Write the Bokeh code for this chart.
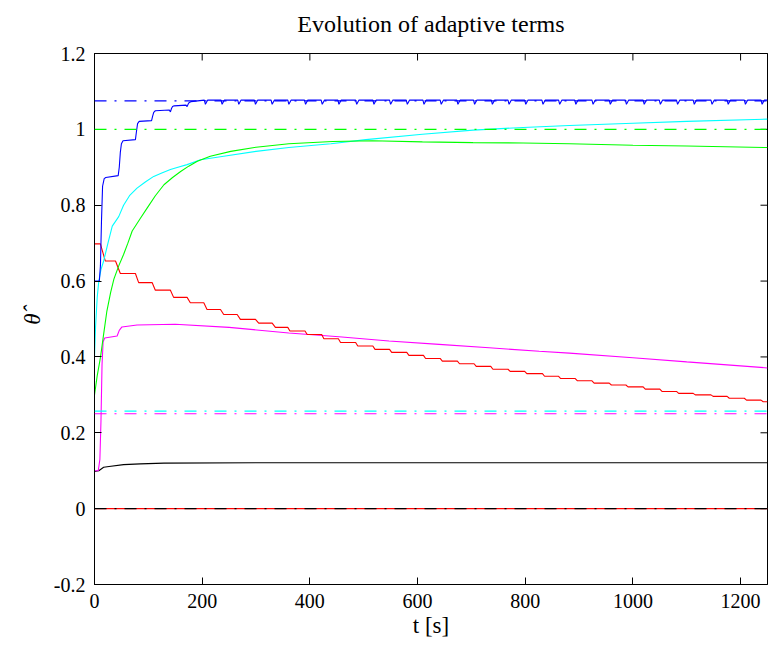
import math
from bokeh.plotting import figure
from bokeh.models import Range1d, FixedTicker, Span, LinearAxis
from bokeh.embed import file_html
from bokeh.resources import INLINE

# ---------------- data ----------------
x_min, x_max = 0, 1250
y_min, y_max = -0.2, 1.2
x_ticks = [0, 200, 400, 600, 800, 1000, 1200]
y_ticks = [-0.2, 0, 0.2, 0.4, 0.6, 0.8, 1, 1.2]
y_tick_labels = ["-0.2", "0", "0.2", "0.4", "0.6", "0.8", "1", "1.2"]
title_text = "Evolution of adaptive terms"

# blue estimate (staircase, then periodic small dips)
blue_t = [0, 9, 11, 13, 15, 18, 21, 44, 46, 48, 50, 53, 76, 78, 80, 83,
          106, 108, 110, 113, 139, 141, 143, 145, 148, 170, 172, 174, 176, 179,
          204, 206, 210, 235, 237, 241, 266, 268, 272, 297, 299, 303,
          328, 330, 334, 359, 361, 365, 390, 392, 396, 421, 423, 427,
          452, 454, 458, 485, 487, 491, 517, 519, 523, 548, 550, 554,
          579, 581, 585, 610, 612, 616, 642, 644, 648, 673, 675, 679,
          704, 706, 710, 737, 739, 743, 768, 770, 774, 799, 801, 805,
          831, 833, 837, 862, 864, 868, 892, 894, 898, 924, 926, 930,
          956, 958, 962, 986, 988, 992, 1019, 1021, 1025, 1049, 1051, 1055,
          1081, 1083, 1087, 1112, 1114, 1118, 1145, 1147, 1151, 1175, 1177, 1181,
          1207, 1209, 1213, 1238, 1240, 1244, 1250]
blue_y = [0.600, 0.600, 0.640, 0.760, 0.850, 0.870, 0.873, 0.878, 0.900, 0.940, 0.962, 0.970,
          0.973, 0.995, 1.015, 1.021, 1.023, 1.035, 1.045, 1.049, 1.051, 1.046, 1.055, 1.060,
          1.062, 1.064, 1.060, 1.067, 1.071, 1.073,
          1.077, 1.066, 1.077, 1.077, 1.066, 1.077, 1.077, 1.066, 1.077, 1.077, 1.066, 1.077,
          1.077, 1.066, 1.077, 1.077, 1.066, 1.077, 1.077, 1.066, 1.077, 1.077, 1.066, 1.077,
          1.077, 1.066, 1.077, 1.077, 1.066, 1.077, 1.077, 1.066, 1.077, 1.077, 1.066, 1.077,
          1.077, 1.066, 1.077, 1.077, 1.066, 1.077, 1.077, 1.066, 1.077, 1.077, 1.066, 1.077,
          1.077, 1.066, 1.077, 1.077, 1.066, 1.077, 1.077, 1.066, 1.077, 1.077, 1.066, 1.077,
          1.077, 1.066, 1.077, 1.077, 1.066, 1.077, 1.077, 1.066, 1.077, 1.077, 1.066, 1.077,
          1.077, 1.066, 1.077, 1.077, 1.066, 1.077, 1.077, 1.066, 1.077, 1.077, 1.066, 1.077,
          1.077, 1.066, 1.077, 1.077, 1.066, 1.077, 1.077, 1.066, 1.077, 1.077, 1.066, 1.077,
          1.077, 1.066, 1.077, 1.077, 1.066, 1.077, 1.077]

green_t = [0, 5, 11, 17, 23, 30, 36, 45, 54, 62, 70, 85, 98, 113, 129, 145, 160, 175, 191,
           215, 253, 300, 361, 442, 516, 609, 703, 796, 882, 1000, 1100, 1250]
green_y = [0.300, 0.350, 0.398, 0.460, 0.521, 0.570, 0.605, 0.640, 0.670, 0.700, 0.732, 0.765,
           0.793, 0.825, 0.854, 0.873, 0.889, 0.903, 0.916, 0.929, 0.942, 0.953, 0.962, 0.968,
           0.970, 0.967, 0.965, 0.964, 0.962, 0.958, 0.956, 0.952]

cyan_t = [0, 2, 5, 8, 12, 17, 25, 33, 45, 54, 65, 79, 95, 110, 125, 141, 155, 172, 197, 240,
          300, 361, 439, 504, 609, 703, 796, 882, 1000, 1100, 1250]
cyan_y = [0.400, 0.480, 0.556, 0.600, 0.630, 0.653, 0.700, 0.745, 0.770, 0.800, 0.825, 0.845,
          0.862, 0.876, 0.885, 0.894, 0.900, 0.907, 0.920, 0.929, 0.942, 0.952, 0.962, 0.973,
          0.987, 0.998, 1.005, 1.010, 1.016, 1.021, 1.027]

red_t = [0, 11, 20, 39, 48, 76, 82, 107, 113, 141, 147, 172, 178, 203, 209, 234, 240, 265, 271,
         299, 305, 330, 336, 359, 363, 391, 395, 422, 426, 453, 457, 485, 489, 517, 521, 548, 552,
         580, 584, 611, 615, 642, 646, 674, 678, 705, 709, 736, 740, 768, 772, 799, 803, 832, 836,
         862, 866, 893, 897, 924, 928, 956, 960, 987, 991, 1019, 1023, 1050, 1054, 1081, 1085,
         1112, 1116, 1145, 1149, 1175, 1179, 1207, 1211, 1238, 1242, 1250]
red_y = [0.698, 0.698, 0.653, 0.653, 0.620, 0.620, 0.596, 0.596, 0.576, 0.576, 0.557, 0.557,
         0.543, 0.543, 0.525, 0.525, 0.512, 0.512, 0.499, 0.499, 0.489, 0.489, 0.478, 0.478,
         0.4685, 0.4685, 0.459, 0.459, 0.448, 0.448, 0.438, 0.438, 0.429, 0.429, 0.420, 0.420,
         0.412, 0.412, 0.404, 0.404, 0.396, 0.396, 0.389, 0.389, 0.382, 0.382, 0.375, 0.375,
         0.3675, 0.3675, 0.362, 0.362, 0.356, 0.356, 0.349, 0.349, 0.343, 0.343, 0.337, 0.337,
         0.331, 0.331, 0.326, 0.326, 0.321, 0.321, 0.315, 0.315, 0.309, 0.309, 0.304, 0.304,
         0.300, 0.300, 0.296, 0.296, 0.291, 0.291, 0.286, 0.286, 0.282, 0.282]

mag_t = [0, 7, 10, 12, 14, 16, 19, 42, 46, 51, 79, 150, 250, 361, 454, 547, 640, 733, 826,
         882, 1000, 1100, 1250]
mag_y = [0.100, 0.100, 0.130, 0.230, 0.380, 0.440, 0.450, 0.455, 0.470, 0.479, 0.484, 0.486,
         0.478, 0.463, 0.453, 0.442, 0.433, 0.424, 0.415, 0.410, 0.398, 0.387, 0.371]

blk_t = [0, 8, 17, 27, 54, 85, 129, 300, 1250]
blk_y = [0.098, 0.100, 0.109, 0.111, 0.116, 0.118, 0.120, 0.121, 0.121]

zero_t = [0, 1250]
zero_y = [0.0, 0.0]

# true values (dash-dot references)
ref_values = [1.075, 1.0, 0.257, 0.25, 0.0]
ref_colors = ["#0000ff", "#00ff00", "#00ffff", "#ff00ff", "#000000"]

FONT = "Liberation Serif"

p = figure(width=768, height=648, output_backend="svg", toolbar_location=None,
           x_range=Range1d(x_min, x_max), y_range=Range1d(y_min, y_max),
           min_border_left=94, min_border_right=1, min_border_top=53, min_border_bottom=64)
p.background_fill_color = "white"
p.border_fill_color = "white"
p.outline_line_color = "black"
p.outline_line_width = 1
p.xgrid.visible = False
p.ygrid.visible = False

series = [
    (zero_t, zero_y, "#ff0000"),
    (blk_t, blk_y, "#000000"),
    (mag_t, mag_y, "#ff00ff"),
    (red_t, red_y, "#ff0000"),
    (cyan_t, cyan_y, "#00ffff"),
    (green_t, green_y, "#00ff00"),
    (blue_t, blue_y, "#0000ff"),
]
for xs, ys, c in series:
    p.line(xs, ys, line_color=c, line_width=1.1)

for v, c in zip(ref_values, ref_colors):
    p.add_layout(Span(location=v, dimension="width", line_color=c, line_width=1.1,
                      line_dash="12 8 2 8"))

# mirrored inward ticks on the top and right frame edges (clipped to the frame)
p.scatter(x=x_ticks, y=[y_max] * len(x_ticks), marker="dash", size=14, angle=math.pi / 2,
          line_color="black", line_width=1)
p.scatter(x=[x_max] * len(y_ticks), y=y_ticks, marker="dash", size=14,
          line_color="black", line_width=1)


def style(ax):
    ax.major_tick_in = 7
    ax.major_tick_out = 0
    ax.minor_tick_line_color = None
    ax.axis_line_color = "black"
    ax.major_tick_line_color = "black"
    ax.major_label_text_font = FONT
    ax.major_label_text_font_size = "20px"
    ax.major_label_text_color = "black"
    ax.axis_label_text_font = FONT
    ax.axis_label_text_color = "black"


xa = p.below[0]
ya = p.left[0]

xa.ticker = FixedTicker(ticks=x_ticks)
style(xa)
xa.major_label_standoff = 9
xa.axis_label = "t [s]"
xa.axis_label_text_font_style = "normal"
xa.axis_label_text_font_size = "23px"
xa.axis_label_standoff = 2

ya.ticker = FixedTicker(ticks=y_ticks)
style(ya)
ya.major_label_standoff = 9
ya.major_label_overrides = {t: s for t, s in zip(y_ticks, y_tick_labels)}
ya.axis_label = "\u03b8\u0302"
ya.axis_label_text_font = FONT
ya.axis_label_text_font_style = "italic"
ya.axis_label_text_font_size = "23px"
ya.axis_label_standoff = 6

# title drawn as the label of a tick-less axis above the frame
top = LinearAxis(ticker=FixedTicker(ticks=[]))
style(top)
top.axis_label = title_text
top.axis_label_text_font_style = "normal"
top.axis_label_text_font_size = "24px"
top.axis_label_standoff = 17
p.add_layout(top, "above")

open("out.html", "w").write(file_html(p, INLINE))
